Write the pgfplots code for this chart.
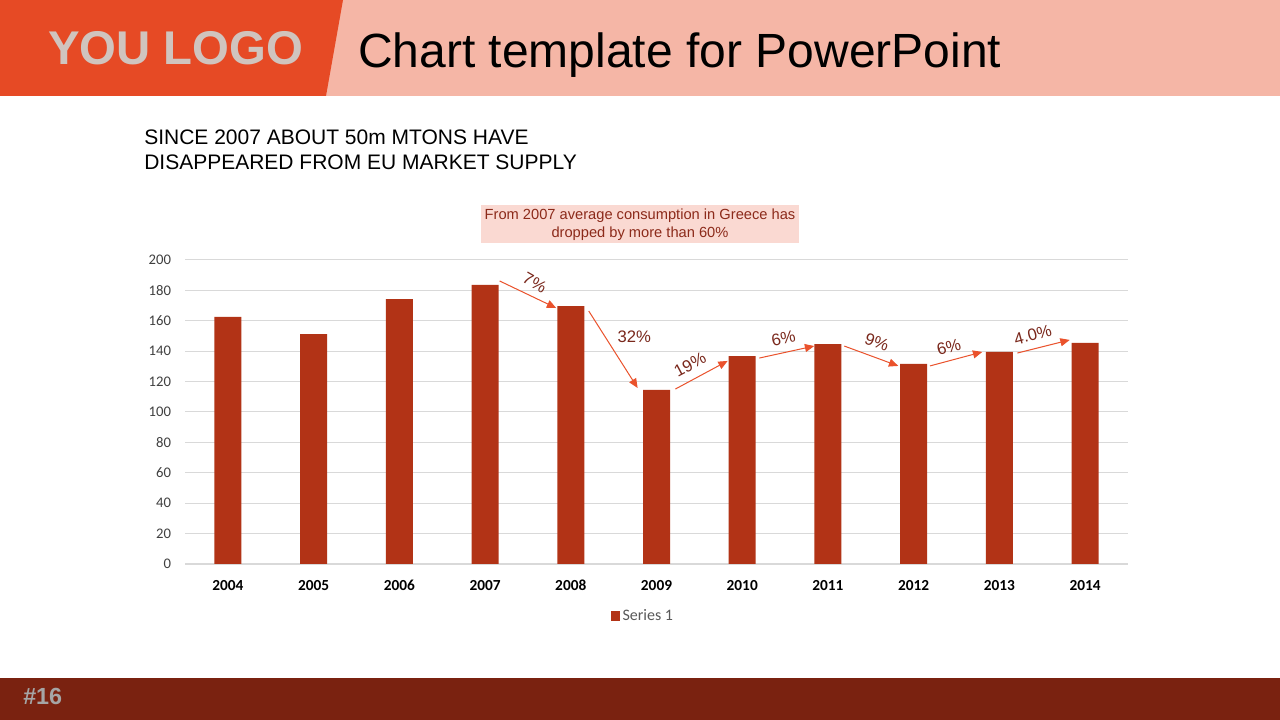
\documentclass[border=0pt]{standalone}
\usepackage{fontspec}
\setmainfont{Liberation Sans}
\newfontfamily\calibri{Carlito}
\usepackage{pgfplots}
\pgfplotsset{compat=1.18}
\usetikzlibrary{arrows.meta}

\definecolor{headorange}{RGB}{230,74,37}
\definecolor{headpink}{RGB}{245,182,166}
\definecolor{logogray}{RGB}{208,196,190}
\definecolor{footred}{RGB}{122,34,16}
\definecolor{footgray}{RGB}{165,165,165}
\definecolor{barred}{RGB}{178,51,22}
\definecolor{boxpink}{RGB}{250,217,210}
\definecolor{boxtext}{RGB}{140,42,26}
\definecolor{arrowred}{RGB}{234,82,44}
\definecolor{labtext}{RGB}{122,40,28}
\definecolor{gridgray}{RGB}{217,217,217}
\definecolor{ticktext}{RGB}{64,64,64}
\definecolor{legtext}{RGB}{89,89,89}

\begin{document}
\begin{tikzpicture}[x=0.75pt,y=0.75pt]
% slide background and header
\fill[white] (0,0) rectangle (1280,720);
\fill[headpink] (0,624) rectangle (1280,720);
\fill[headorange] (0,624) -- (0,720) -- (343,720) -- (326,624) -- cycle;
\node[anchor=base west, inner sep=0, text=logogray,
      font=\fontsize{35.5}{40}\selectfont\bfseries] at (48,655) {YOU LOGO};
\node[anchor=base west, inner sep=0,
      font=\fontsize{36}{40}\selectfont] at (358,652) {Chart template for PowerPoint};

% subtitle
\node[anchor=base west, inner sep=0, font=\fontsize{15.75}{18}\selectfont]
  at (144,575) {SINCE 2007 ABOUT 50m MTONS HAVE};
\node[anchor=base west, inner sep=0, font=\fontsize{15.75}{18}\selectfont]
  at (144,550) {DISAPPEARED FROM EU MARKET SUPPLY};

% note box
\fill[boxpink] (481,477) rectangle (799,515);
\node[text=boxtext, font=\fontsize{11}{13}\selectfont, inner sep=0] at (640,504)
  {From 2007 average consumption in Greece has};
\node[text=boxtext, font=\fontsize{11}{13}\selectfont, inner sep=0] at (640,486)
  {dropped by more than 60\%};

% footer
\fill[footred] (0,0) rectangle (1280,42);
\node[anchor=base west, inner sep=0, text=footgray,
      font=\fontsize{17.5}{20}\selectfont\bfseries] at (23,15) {\#16};

\begin{axis}[
    at={(138.75pt,117pt)}, anchor=south west,
    scale only axis,
    width=707.25pt, height=228pt,
    ybar, bar width=20.25pt,
    xmin=-0.5, xmax=10.5,
    ymin=0, ymax=200,
    ytick={0,20,...,200},
    xtick={0,...,10},
    xticklabels={2004,2005,2006,2007,2008,2009,2010,2011,2012,2013,2014},
    axis x line*=bottom, axis y line*=left,
    x axis line style={draw=gridgray, -},
    y axis line style={draw=none},
    major tick length=0pt,
    ymajorgrids, grid style={gridgray, line width=0.75pt},
    tick label style={text=ticktext, font=\calibri\fontsize{11}{13}\selectfont},
    xticklabel style={font=\calibri\bfseries\fontsize{11.5}{13}\selectfont, text=black,
                      yshift=-8pt, text height=8pt, text depth=0pt},
    yticklabel style={xshift=-7pt},
    /pgf/number format/assume math mode=true,
    legend style={at={(0.486,-0.171)}, anchor=center, draw=none, fill=none,
                  font=\calibri\fontsize{12}{14}\selectfont, text=legtext},
    legend image code/.code={\fill[barred] (0pt,-3.4pt) rectangle (6.8pt,3.4pt);},
    clip=false,
  ]
  \addplot[fill=barred, draw=none] coordinates {
    (0,162.6) (1,151.3) (2,174.3) (3,183.6) (4,169.7) (5,114.5)
    (6,136.8) (7,144.7) (8,131.6) (9,139.5) (10,145.4)
  };
  \addlegendentry{Series 1}

  % change arrows
  \begin{scope}[arrowred, line width=0.75pt, -{Triangle[length=7pt,width=6pt]}]
    \draw (axis cs:3.17,186.2) -- (axis cs:3.83,168.4);
    \draw (axis cs:4.21,166.4) -- (axis cs:4.78,115.8);
    \draw (axis cs:5.22,115.1) -- (axis cs:5.83,133.6);
    \draw (axis cs:6.20,135.5) -- (axis cs:6.84,143.4);
    \draw (axis cs:7.19,143.4) -- (axis cs:7.82,130.3);
    \draw (axis cs:8.19,130.3) -- (axis cs:8.80,139.5);
    \draw (axis cs:9.21,138.8) -- (axis cs:9.82,147.4);
  \end{scope}
  \begin{scope}[every node/.style={text=labtext, font=\fontsize{12.5}{14}\selectfont, inner sep=0}]
    \node[rotate=-30] at (axis cs:3.58,185.2) {7\%};
    \node at (axis cs:4.74,149.3) {32\%};
    \node[rotate=28] at (axis cs:5.39,131.2) {19\%};
    \node[rotate=12] at (axis cs:6.48,148.2) {6\%};
    \node[rotate=-20] at (axis cs:7.57,145.7) {9\%};
    \node[rotate=15] at (axis cs:8.41,142.8) {6\%};
    \node[rotate=15] at (axis cs:9.39,150.8) {4.0\%};
  \end{scope}
\end{axis}
\end{tikzpicture}
\end{document}
